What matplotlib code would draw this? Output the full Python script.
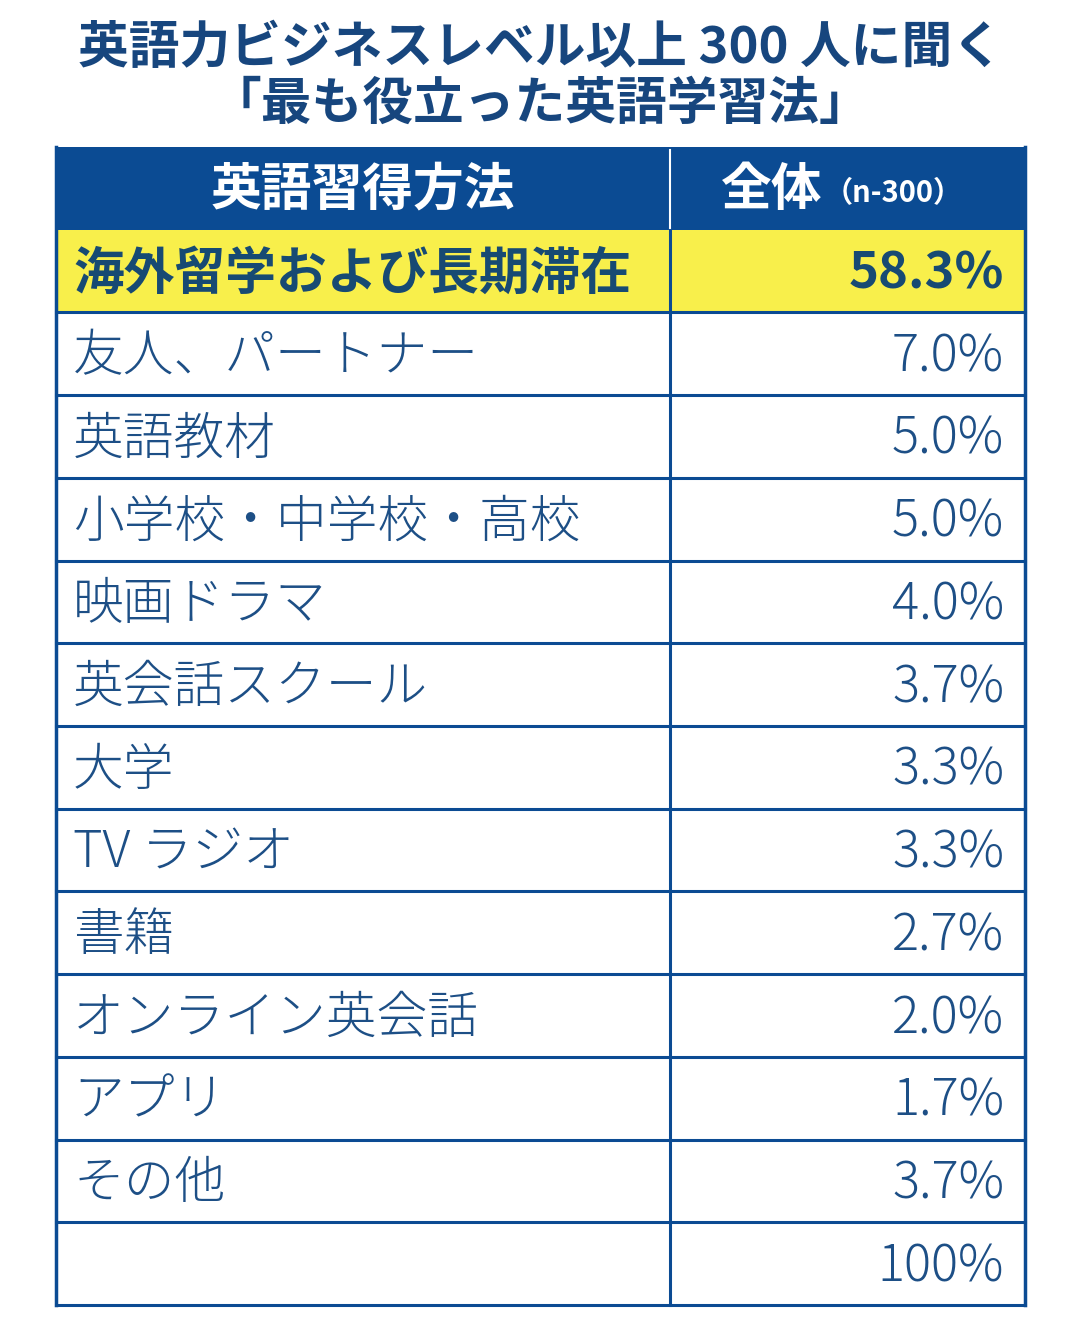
import matplotlib
matplotlib.use('Agg')
import matplotlib.pyplot as plt
from matplotlib.patches import Rectangle

plt.rcParams['font.family'] = ['Noto Sans CJK JP', 'DejaVu Sans']

title_lines = ['英語力ビジネスレベル以上 300 人に聞く', '「最も役立った英語学習法」']
col_headers = ['英語習得方法', '全体']
n_label = '（n-300）'
methods = ['海外留学および長期滞在', '友人、パートナー', '英語教材', '小学校・中学校・高校',
           '映画ドラマ', '英会話スクール', '大学', 'TV ラジオ', '書籍', 'オンライン英会話',
           'アプリ', 'その他', '']
shares = ['58.3%', '7.0%', '5.0%', '5.0%', '4.0%', '3.7%', '3.3%', '3.3%', '2.7%', '2.0%',
          '1.7%', '3.7%', '100%']

W, H = 1080, 1317
navy = '#0b4b93'
text_blue = '#1d4f86'
title_blue = '#17467e'
yellow = '#f8ef4b'

fig = plt.figure(figsize=(W / 100, H / 100), dpi=100)
ax = fig.add_axes([0, 0, 1, 1])
ax.set_xlim(0, W)
ax.set_ylim(H, 0)
ax.axis('off')

# title
ax.text(540, 48, title_lines[0], ha='center', va='center', fontsize=36.5,
        fontweight='bold', color=title_blue)
ax.text(540, 104, title_lines[1], ha='center', va='center', fontsize=36.5,
        fontweight='bold', color=title_blue)

left, mid, right = 56, 670, 1025
top, bottom = 147, 1305
nrows = len(methods) + 1
rh = (bottom - top) / nrows

# header
ax.add_patch(Rectangle((left, top), right - left, rh, facecolor=navy, edgecolor='none'))
ax.plot([mid, mid], [top + 3, top + rh], color='white', lw=1.5)
ax.text((left + mid) / 2, top + rh / 2 + 2, col_headers[0], ha='center', va='center',
        fontsize=36.5, fontweight='bold', color='white')
ax.text(822, top + rh / 2 + 2, col_headers[1], ha='right', va='center',
        fontsize=36.5, fontweight='bold', color='white')
ax.text(824, top + rh / 2 + 5, n_label, ha='left', va='center',
        fontsize=21, fontweight='bold', color='white')

# body rows
for i, (m, s) in enumerate(zip(methods, shares)):
    y0 = top + rh * (i + 1)
    yc = y0 + rh / 2 + 3
    if i == 0:
        ax.add_patch(Rectangle((left, y0), right - left, rh, facecolor=yellow, edgecolor='none'))
        fs, weight, col = 36.5, 'bold', '#174a73'
    else:
        fs, weight, col = 36.5, 'light', text_blue
    ax.text(73, yc, m, ha='left', va='center', fontsize=fs, fontweight=weight, color=col)
    ax.text(1004, yc, s, ha='right', va='center', fontsize=fs, fontweight=weight, color=col)
    ax.plot([left, right], [y0 + rh, y0 + rh], color=navy, lw=2.2)

# grid lines
ax.plot([mid, mid], [top + rh, bottom], color=navy, lw=2.2)
ax.plot([left, left], [top, bottom], color=navy, lw=2.5)
ax.plot([right, right], [top, bottom], color=navy, lw=2.5)

fig.savefig('out.png', dpi=100, facecolor='white')
